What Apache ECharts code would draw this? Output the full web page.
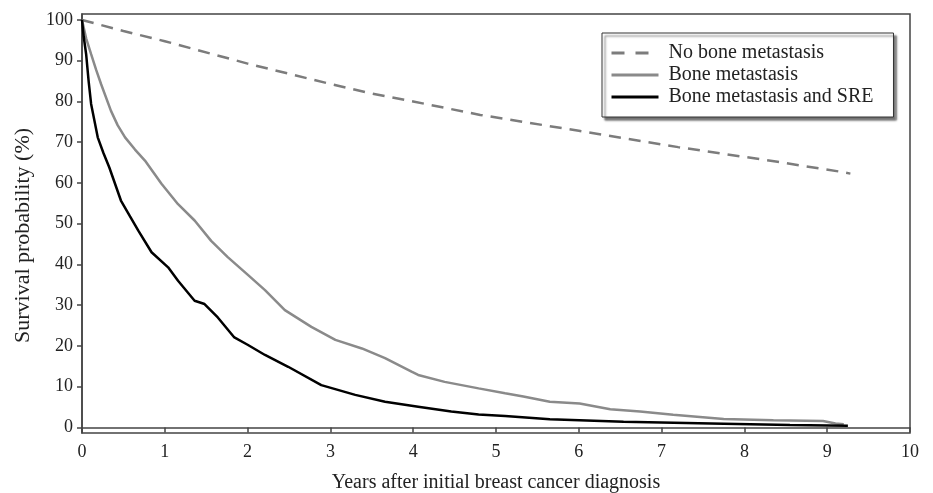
<!DOCTYPE html>
<html>
<head>
<meta charset="utf-8">
<script src="https://cdn.jsdelivr.net/npm/echarts@6/dist/echarts.min.js"></script>
<style>
html,body{margin:0;padding:0;background:#fff;}
#chart{width:933px;height:493px;}
</style>
</head>
<body>
<div id="chart"></div>
<script>
// ---- Data ----
var seriesNames = ['No bone metastasis', 'Bone metastasis', 'Bone metastasis and SRE'];

var noBoneYears = [0, 0.5, 1, 2, 3, 3.44, 4, 4.81, 6, 7.2, 8.4, 9.15, 9.28];
var noBoneSurv  = [100, 97.3, 94.8, 89.3, 84.3, 82.2, 80, 76.7, 72.8, 68.8, 65.2, 62.8, 62.3];

var boneYears = [0, 0.05, 0.11, 0.17, 0.23, 0.35, 0.43, 0.52, 0.64, 0.76, 0.96, 1.16, 1.36, 1.56, 1.76, 2.0, 2.21, 2.45, 2.77, 3.06, 3.38, 3.66, 3.98, 4.06, 4.38, 4.79, 5.11, 5.33, 5.65, 6.01, 6.38, 6.74, 7.14, 7.75, 8.35, 8.95, 9.1, 9.2];
var boneSurv  = [100, 95.5, 91.6, 87.8, 84.3, 77.7, 74.2, 71.2, 68.2, 65.5, 59.8, 54.8, 50.8, 45.8, 41.8, 37.5, 33.7, 28.8, 24.7, 21.5, 19.4, 17.0, 13.7, 12.9, 11.2, 9.6, 8.4, 7.6, 6.3, 5.9, 4.5, 3.9, 3.1, 2.1, 1.8, 1.6, 1.0, 0.8];

var sreYears = [0, 0.02, 0.05, 0.08, 0.11, 0.19, 0.26, 0.33, 0.47, 0.58, 0.68, 0.84, 1.04, 1.16, 1.36, 1.48, 1.64, 1.84, 2.0, 2.21, 2.49, 2.89, 3.30, 3.66, 4.06, 4.46, 4.79, 5.11, 5.65, 6.54, 7.75, 8.55, 9.25];
var sreSurv  = [100, 96, 91.6, 85.0, 79.4, 71.2, 67.3, 63.8, 55.7, 51.8, 48.3, 43.0, 39.3, 36.0, 31.1, 30.3, 27.0, 22.1, 20.3, 17.8, 14.9, 10.4, 8.0, 6.3, 5.1, 3.9, 3.2, 2.8, 2.0, 1.4, 0.9, 0.6, 0.45];

var yTicks = [0, 10, 20, 30, 40, 50, 60, 70, 80, 90, 100];

function pairs(xs, ys) { return xs.map(function (x, i) { return [x, ys[i]]; }); }

var FONT = '"Liberation Serif", "Times New Roman", serif';
var AXIS = '#444';

var chart = echarts.init(document.getElementById('chart'), null, {renderer: 'canvas'});
chart.setOption({
  animation: false,
  backgroundColor: '#fff',
  textStyle: {fontFamily: FONT, color: '#222'},
  grid: {
    left: 82, right: 23, top: 14, bottom: 60,
    outerBoundsMode: 'none', containLabel: false,
    show: true, borderColor: AXIS, borderWidth: 1.5, backgroundColor: 'transparent'
  },
  legend: {
    orient: 'vertical',
    left: 602, top: 33,
    padding: [9, 20, 9, 8],
    itemGap: 0,
    itemWidth: 47, itemHeight: 14,
    data: [
      {name: seriesNames[0], lineStyle: {type: [13, 11], width: 3}},
      {name: seriesNames[1], lineStyle: {width: 3}},
      {name: seriesNames[2], lineStyle: {width: 3}}
    ],
    backgroundColor: '#fff',
    borderColor: '#333', borderWidth: 1,
    shadowColor: 'rgba(0,0,0,0.55)', shadowBlur: 2, shadowOffsetX: 3, shadowOffsetY: 3,
    itemStyle: {opacity: 0},
    textStyle: {fontFamily: FONT, fontSize: 20, color: '#222', lineHeight: 22, padding: [0, 0, 0, 5]}
  },
  xAxis: {
    type: 'value', min: 0, max: 10, interval: 1,
    name: 'Years after initial breast cancer diagnosis',
    nameLocation: 'middle', nameGap: 40,
    nameTextStyle: {fontFamily: FONT, fontSize: 20, color: '#222'},
    axisLine: {show: true, lineStyle: {color: AXIS, width: 1.5}},
    axisTick: {show: true, length: 5, inside: false, lineStyle: {color: AXIS, width: 1.5}},
    axisLabel: {fontFamily: FONT, fontSize: 18, color: '#222', margin: 10},
    splitLine: {show: false}
  },
  yAxis: {
    type: 'value', min: -1.35, max: 101.47,
    name: 'Survival probability (%)',
    nameLocation: 'middle', nameGap: 48,
    nameTextStyle: {fontFamily: FONT, fontSize: 22, color: '#222', padding: [0, 24, 0, 0]},
    axisLine: {show: true, lineStyle: {color: AXIS, width: 1.5}},
    axisTick: {show: true, length: 5, inside: false, customValues: yTicks, lineStyle: {color: AXIS, width: 1.5}},
    axisLabel: {fontFamily: FONT, fontSize: 18, color: '#222', margin: 9, customValues: yTicks},
    splitLine: {show: false}
  },
  series: [
    {
      name: seriesNames[0], type: 'line', data: pairs(noBoneYears, noBoneSurv),
      showSymbol: false, symbol: 'none',
      lineStyle: {color: '#7c7c7c', width: 2.5, type: [12, 8]},
      itemStyle: {color: '#7c7c7c'}
    },
    {
      name: seriesNames[1], type: 'line', data: pairs(boneYears, boneSurv),
      showSymbol: false, symbol: 'none',
      lineStyle: {color: '#8a8a8a', width: 2.5},
      itemStyle: {color: '#8a8a8a'}
    },
    {
      name: seriesNames[2], type: 'line', data: pairs(sreYears, sreSurv),
      showSymbol: false, symbol: 'none',
      lineStyle: {color: '#000', width: 2.5},
      itemStyle: {color: '#000'}
    }
  ]
});
</script>
</body>
</html>
